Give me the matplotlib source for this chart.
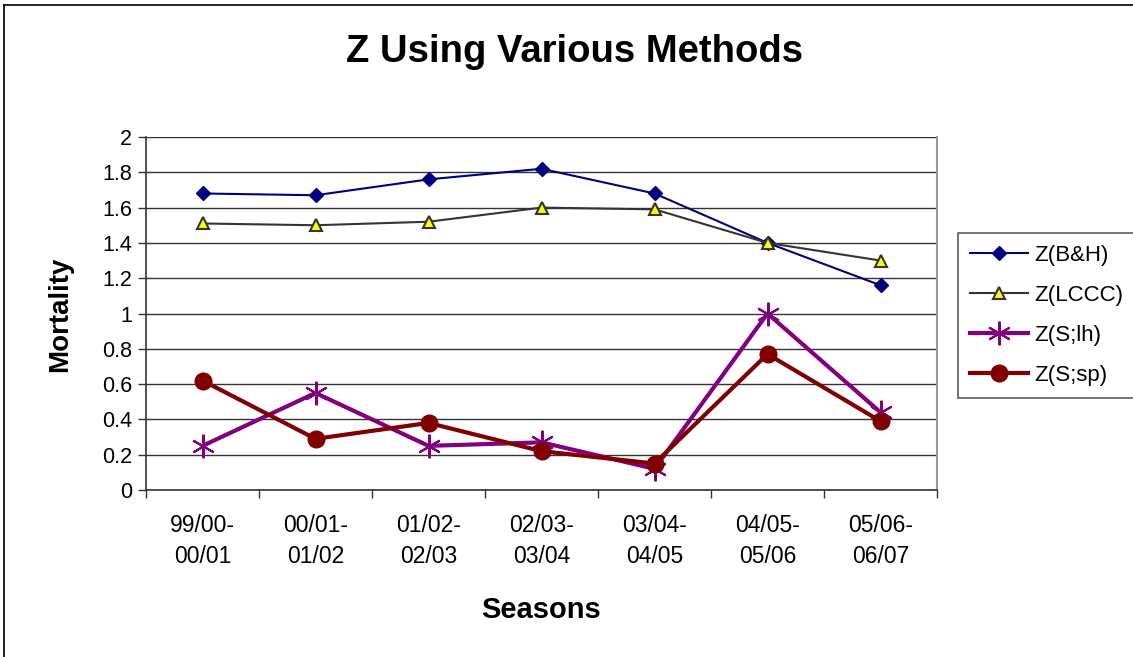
import matplotlib
matplotlib.use("Agg")
import matplotlib.pyplot as plt
import numpy as np

plt.rcParams['font.family'] = ['Liberation Sans', 'DejaVu Sans']

seasons = ["99/00-\n00/01", "00/01-\n01/02", "01/02-\n02/03", "02/03-\n03/04",
           "03/04-\n04/05", "04/05-\n05/06", "05/06-\n06/07"]
z_bh = [1.68, 1.67, 1.76, 1.82, 1.68, 1.40, 1.16]
z_lccc = [1.51, 1.50, 1.52, 1.60, 1.59, 1.40, 1.30]
z_slh = [0.25, 0.55, 0.25, 0.27, 0.12, 1.00, 0.44]
z_ssp = [0.62, 0.29, 0.38, 0.22, 0.15, 0.77, 0.39]

W, H = 1133, 657
fig = plt.figure(figsize=(W/100, H/100), dpi=100)
ax = fig.add_axes([146/W, 1-490/H, (937-146)/W, (490-137)/H])

x = np.arange(len(seasons))
ax.plot(x, z_bh, color='#000080', lw=1.5, marker='D', ms=7.5, mfc='#000080', mec='#000080', label='Z(B&H)', zorder=3)
ax.plot(x, z_lccc, color='#333333', lw=1.5, marker='^', ms=9, mfc='#ffff00', mec='#333333', mew=1.5, label='Z(LCCC)', zorder=3)
ax.plot(x, z_slh, color='#800080', lw=3, marker=(6, 2, 0), ms=17, mec='#800080', mew=1.5, label='Z(S;lh)', zorder=4)
ax.plot(x, z_ssp, color='#800000', lw=3, marker='o', ms=12, mfc='#800000', mec='#800000', label='Z(S;sp)', zorder=5)

ax.set_xlim(-0.5, len(seasons) - 0.5)
ax.set_ylim(0, 2)
ax.set_yticks(np.arange(0, 2.01, 0.2))
ax.set_yticklabels(['0', '0.2', '0.4', '0.6', '0.8', '1', '1.2', '1.4', '1.6', '1.8', '2'])
ax.set_xticks(x)
ax.set_xticklabels(seasons, linespacing=1.45)
ax.set_xticks(np.arange(-0.5, len(seasons), 1.0), minor=True)
ax.tick_params(axis='x', which='major', length=0, pad=17, labelsize=16.5)
ax.tick_params(axis='x', which='minor', length=6, width=1, color='#333333')
ax.tick_params(axis='y', length=6, width=1, color='#333333', labelsize=15.5, pad=4)
ax.grid(axis='y', color='#333333', lw=1)
ax.set_axisbelow(True)
for s in ['left', 'bottom']:
    ax.spines[s].set_color('#333333')
    ax.spines[s].set_linewidth(1.2)
ax.spines['top'].set_visible(False)
ax.spines['right'].set_color('#999999')
ax.spines['right'].set_linewidth(1.5)

fig.text(575/W, 1-52/H, 'Z Using Various Methods', ha='center', va='center', fontsize=27.5, fontweight='bold')
fig.text(541/W, 1-610/H, 'Seasons', ha='center', va='center', fontsize=21, fontweight='bold')
fig.text(60/W, 1-314/H, 'Mortality', ha='center', va='center', fontsize=20, fontweight='bold', rotation=90)

leg = fig.legend(loc='upper left', bbox_to_anchor=(958/W, 1-233/H), frameon=True, fancybox=False,
                 edgecolor='#333333', fontsize=16, handlelength=2.6, borderpad=0.55,
                 labelspacing=0.85, handletextpad=0.3, borderaxespad=0)
leg.get_frame().set_linewidth(1.2)

# chart border (left and top)
fig.add_artist(plt.Line2D([4/W, 4/W], [0, 1-5/H], color='black', lw=1.2, transform=fig.transFigure))
fig.add_artist(plt.Line2D([4/W, 1], [1-5/H, 1-5/H], color='black', lw=1.2, transform=fig.transFigure))

fig.savefig('out.png', dpi=100)
